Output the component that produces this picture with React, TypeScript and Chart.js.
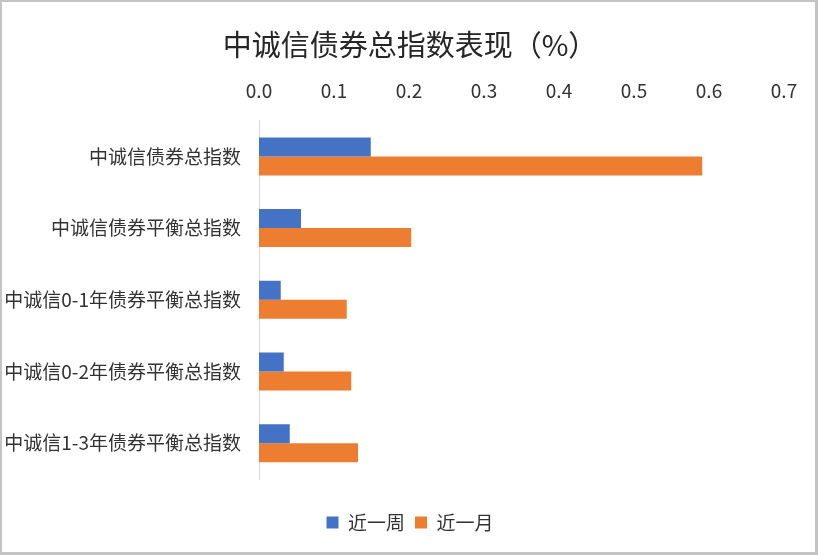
import React, { useEffect, useRef } from "react";
import { Chart, registerables } from "chart.js";

Chart.register(...registerables);

const categories = [
  "中诚信债券总指数",
  "中诚信债券平衡总指数",
  "中诚信0-1年债券平衡总指数",
  "中诚信0-2年债券平衡总指数",
  "中诚信1-3年债券平衡总指数",
];
const weekValues = [0.149, 0.056, 0.029, 0.033, 0.041];
const monthValues = [0.591, 0.203, 0.117, 0.123, 0.132];
const seriesNames = ["近一周", "近一月"];
const titleText = "中诚信债券总指数表现（%）";

const FONT = "'Noto Sans CJK SC', 'Noto Sans', sans-serif";

export default function App() {
  const ref = useRef<HTMLCanvasElement | null>(null);
  useEffect(() => {
    document.body.style.margin = "0";
    if (!ref.current) return;
    const chart = new Chart(ref.current, {
      type: "bar",
      data: {
        labels: categories,
        datasets: [
          {
            label: seriesNames[0],
            data: weekValues,
            backgroundColor: "#4472C4",
            categoryPercentage: 0.53,
            barPercentage: 1,
          },
          {
            label: seriesNames[1],
            data: monthValues,
            backgroundColor: "#ED7D31",
            categoryPercentage: 0.53,
            barPercentage: 1,
          },
        ],
      },
      options: {
        indexAxis: "y",
        animation: false,
        responsive: true,
        maintainAspectRatio: false,
        layout: { padding: { left: 2, right: 0, top: 0, bottom: 13 } },
        scales: {
          x: {
            position: "top",
            min: 0,
            max: 0.7,
            ticks: {
              stepSize: 0.1,
              callback: (v: any) => Number(v).toFixed(1),
              font: { family: FONT, size: 19 },
              color: "#333333",
              padding: 10,
            },
            grid: { display: false },
            border: { display: false },
          },
          spacer: {
            type: "linear",
            position: "bottom",
            axis: "x",
            min: 0,
            max: 1,
            ticks: { display: false },
            grid: { display: false, drawTicks: false },
            border: { display: false },
            afterFit: (s: any) => {
              s.height = 24;
            },
          },
          y: {
            ticks: {
              font: { family: FONT, size: 19 },
              color: "#333333",
              padding: 18,
            },
            grid: { display: false, drawTicks: false },
            border: { color: "#d9d9d9", width: 1 },
            afterFit: (s: any) => {
              s.width = 257;
            },
          },
          spacerRight: {
            type: "linear",
            position: "right",
            axis: "y",
            min: 0,
            max: 1,
            ticks: { display: false },
            grid: { display: false, drawTicks: false },
            border: { display: false },
            afterFit: (s: any) => {
              s.width = 34;
            },
          },
        } as any,
        plugins: {
          title: {
            display: true,
            text: titleText,
            font: { family: FONT, size: 29, weight: "normal" },
            color: "#262626",
            padding: { top: 28, bottom: 7 },
          },
          legend: {
            position: "bottom",
            labels: {
              boxWidth: 12,
              boxHeight: 12,
              font: { family: FONT, size: 19 },
              color: "#333333",
              padding: 10,
            },
          },
          tooltip: { enabled: false },
        },
      },
    });
    return () => chart.destroy();
  }, []);
  return (
    <div
      style={{
        position: "fixed",
        left: 0,
        top: 0,
        width: 818,
        height: 555,
        background: "#fff",
      }}
    >
      <canvas ref={ref} style={{ position: "absolute", left: 0, top: 0 }} />
      <div
        style={{
          position: "absolute",
          left: 0,
          top: 0,
          width: 818,
          height: 555,
          boxSizing: "border-box",
          borderTop: "2px solid #c4c4c4",
          borderLeft: "2px solid #c4c4c4",
          borderRight: "3px solid #c4c4c4",
          borderBottom: "3px solid #c4c4c4",
          pointerEvents: "none",
        }}
      />
    </div>
  );
}
